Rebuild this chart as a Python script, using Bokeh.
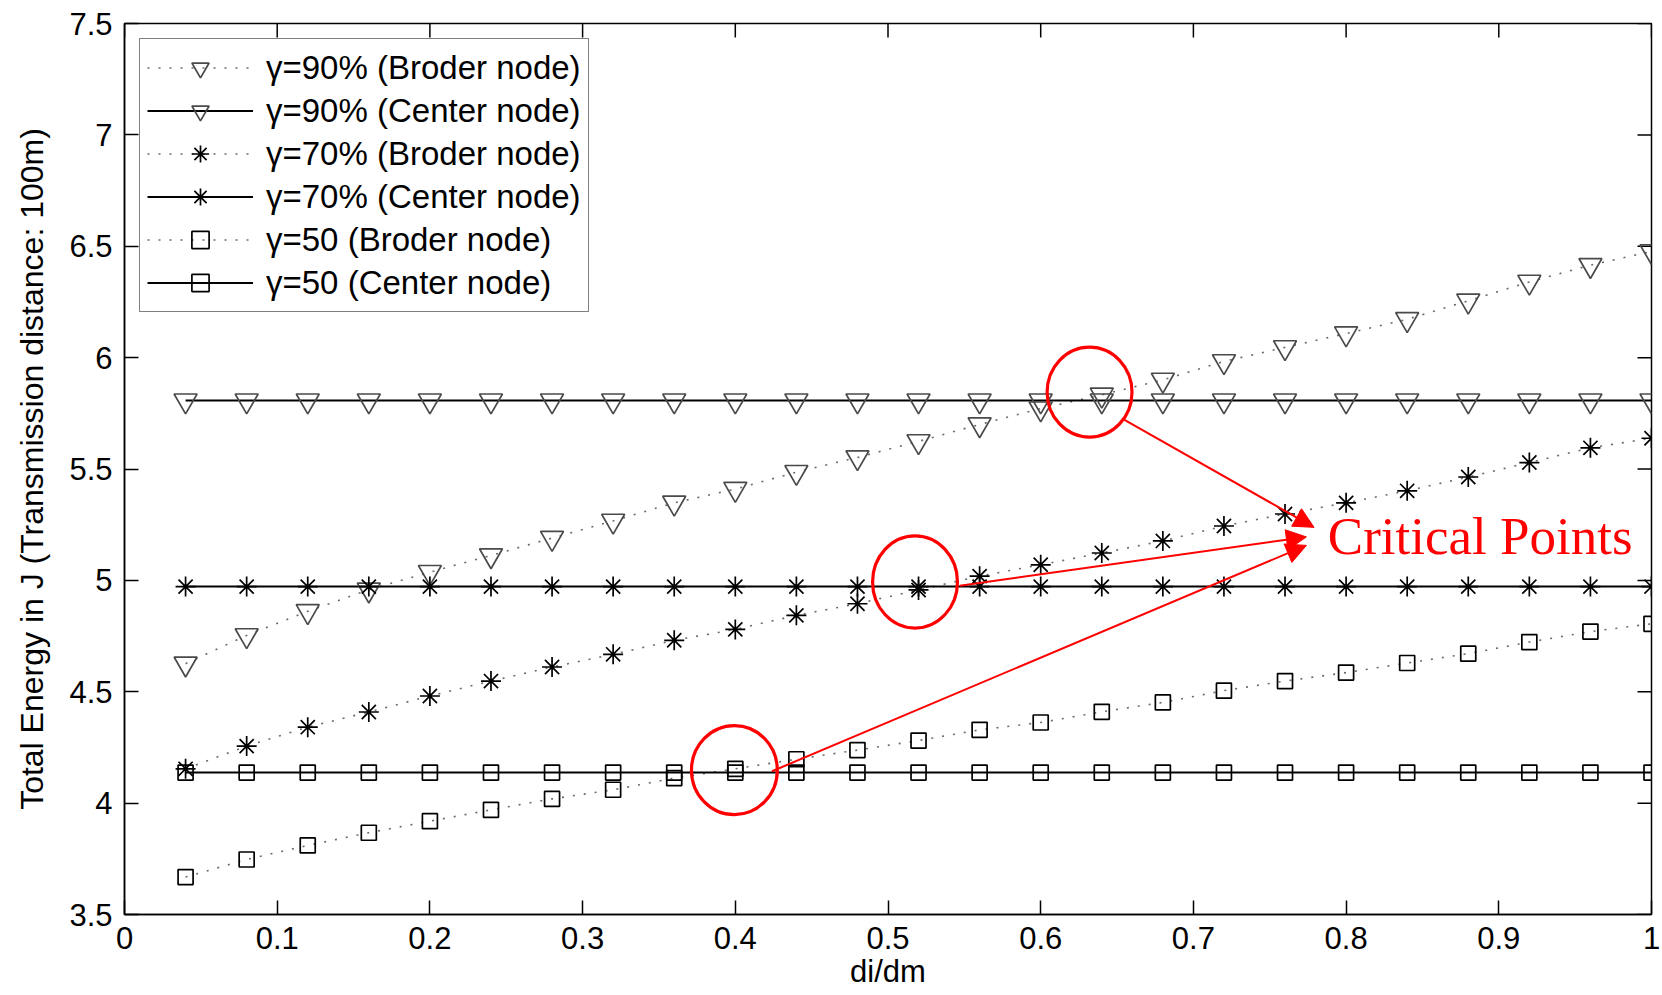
from bokeh.plotting import figure
from bokeh.models import (Range1d, FixedTicker, Legend, LegendItem,
                          Arrow, NormalHead, Label, ColumnDataSource)
from bokeh.embed import file_html
from bokeh.resources import INLINE

# ---------------- data ----------------
x_vals = [0.04, 0.08, 0.12, 0.16, 0.20, 0.24, 0.28, 0.32, 0.36, 0.40, 0.44, 0.48, 0.52,
          0.56, 0.60, 0.64, 0.68, 0.72, 0.76, 0.80, 0.84, 0.88, 0.92, 0.96, 1.00]

g90_border = [4.626, 4.753, 4.861, 4.958, 5.037, 5.112, 5.190, 5.267, 5.348, 5.410, 5.486, 5.552, 5.624,
              5.700, 5.771, 5.833, 5.900, 5.983, 6.046, 6.108, 6.172, 6.255, 6.340, 6.415, 6.477]
g90_center = [5.807, 5.807, 5.807, 5.807, 5.807, 5.807, 5.807, 5.807, 5.807, 5.807, 5.807, 5.807, 5.807,
              5.807, 5.807, 5.807, 5.807, 5.807, 5.807, 5.807, 5.807, 5.807, 5.807, 5.807, 5.807]
g70_border = [4.154, 4.256, 4.341, 4.409, 4.481, 4.548, 4.611, 4.668, 4.731, 4.780, 4.843, 4.895, 4.957,
              5.019, 5.070, 5.123, 5.177, 5.244, 5.298, 5.348, 5.402, 5.464, 5.529, 5.595, 5.638]
g70_center = [4.972, 4.972, 4.972, 4.972, 4.972, 4.972, 4.972, 4.972, 4.972, 4.972, 4.972, 4.972, 4.972,
              4.972, 4.972, 4.972, 4.972, 4.972, 4.972, 4.972, 4.972, 4.972, 4.972, 4.972, 4.972]
g50_border = [3.668, 3.747, 3.810, 3.867, 3.919, 3.970, 4.019, 4.060, 4.112, 4.154, 4.197, 4.238, 4.281,
              4.329, 4.362, 4.410, 4.452, 4.505, 4.548, 4.586, 4.629, 4.671, 4.723, 4.770, 4.805]
g50_center = [4.137, 4.137, 4.137, 4.137, 4.137, 4.137, 4.137, 4.137, 4.137, 4.137, 4.137, 4.137, 4.137,
              4.137, 4.137, 4.137, 4.137, 4.137, 4.137, 4.137, 4.137, 4.137, 4.137, 4.137, 4.137]

legend_labels = ["γ=90% (Broder node)", "γ=90% (Center node)",
                 "γ=70% (Broder node)", "γ=70% (Center node)",
                 "γ=50 (Broder node)", "γ=50 (Center node)"]

x_ticks = [0, 0.1, 0.2, 0.3, 0.4, 0.5, 0.6, 0.7, 0.8, 0.9, 1]
x_tick_labels = ["0", "0.1", "0.2", "0.3", "0.4", "0.5", "0.6", "0.7", "0.8", "0.9", "1"]
y_ticks = [3.5, 4, 4.5, 5, 5.5, 6, 6.5, 7, 7.5]
y_tick_labels = ["3.5", "4", "4.5", "5", "5.5", "6", "6.5", "7", "7.5"]

# critical-point annotations (data coordinates)
circle_x = [0.632, 0.5177, 0.3994]
circle_y = [5.845, 4.993, 4.148]
circle_w = [0.0556, 0.0556, 0.0562]
circle_h = [0.404, 0.414, 0.400]
arrow_x0 = [0.654, 0.547, 0.424]
arrow_y0 = [5.724, 4.976, 4.143]
arrow_x1 = [0.779, 0.774, 0.774]
arrow_y1 = [5.238, 5.195, 5.157]
annot_text = "Critical Points"
annot_x = 0.788
annot_y = 5.200

FONT = "Liberation Sans"
X0, X1, Y0, Y1 = 0, 1, 3.5, 7.5
FRAME_W, FRAME_H = 1527, 891     # frame size in px (style)
TICK_PX = 14                      # inward tick length (style)

p = figure(width=1660, height=993, x_range=Range1d(X0, X1), y_range=Range1d(Y0, Y1),
           output_backend="svg", toolbar_location=None,
           min_border_left=124, min_border_right=9, min_border_top=23, min_border_bottom=79)
p.xgrid.visible = False
p.ygrid.visible = False
p.outline_line_color = "black"
p.outline_line_width = 1.5
p.background_fill_color = "white"
p.border_fill_color = "white"

xa = p.xaxis[0]
ya = p.yaxis[0]
for ax, ticks, labels in ((xa, x_ticks, x_tick_labels), (ya, y_ticks, y_tick_labels)):
    ax.ticker = FixedTicker(ticks=ticks)
    ax.major_label_overrides = dict(zip(ticks, labels))
    ax.minor_tick_line_color = None
    ax.major_tick_in = TICK_PX
    ax.major_tick_out = 0
    ax.major_tick_line_width = 1.5
    ax.axis_line_width = 1.5
    ax.axis_line_color = "black"
    ax.major_tick_line_color = "black"
    ax.major_label_text_font = FONT
    ax.major_label_text_color = "black"
    ax.major_label_text_font_size = "31px"
    ax.axis_label_text_font = FONT
    ax.axis_label_text_font_style = "normal"
    ax.axis_label_text_color = "black"
xa.major_label_standoff = 12
ya.major_label_standoff = 12
xa.axis_label = "di/dm"
ya.axis_label = "Total Energy in J (Transmission distance: 100m)"
xa.axis_label_text_font_size = "31px"
ya.axis_label_text_font_size = "32px"
xa.axis_label_standoff = 2
ya.axis_label_standoff = 16

# mirrored inward ticks on the top and right edges (from the tick arrays)
dy_tick = TICK_PX * (Y1 - Y0) / FRAME_H
dx_tick = TICK_PX * (X1 - X0) / FRAME_W
p.segment(x0=x_ticks, y0=[Y1] * len(x_ticks), x1=x_ticks, y1=[Y1 - dy_tick] * len(x_ticks),
          line_color="black", line_width=1.5)
p.segment(x0=[X1] * len(y_ticks), y0=y_ticks, x1=[X1 - dx_tick] * len(y_ticks), y1=y_ticks,
          line_color="black", line_width=1.5)

src = ColumnDataSource(dict(x=x_vals, b90=g90_border, c90=g90_center, b70=g70_border,
                            c70=g70_center, b50=g50_border, c50=g50_center))

DOT = dict(line_color="#6a6a6a", line_width=1.6, line_dash="2 9")
SOLID = dict(line_color="black", line_width=2)
TRI = dict(marker="inverted_triangle", size=23, fill_color=None, line_color="#4a4a4a", line_width=1.7)
AST = dict(marker="asterisk", size=20, line_color="black", line_width=1.7)
SQR = dict(marker="square", size=15, fill_color=None, line_color="black", line_width=1.7)

r = {}
r["b90l"] = p.line("x", "b90", source=src, **DOT)
r["c90l"] = p.line("x", "c90", source=src, **SOLID)
r["b70l"] = p.line("x", "b70", source=src, **DOT)
r["c70l"] = p.line("x", "c70", source=src, **SOLID)
r["b50l"] = p.line("x", "b50", source=src, **DOT)
r["c50l"] = p.line("x", "c50", source=src, **SOLID)
r["b90m"] = p.scatter("x", "b90", source=src, **TRI)
r["c90m"] = p.scatter("x", "c90", source=src, **TRI)
r["b70m"] = p.scatter("x", "b70", source=src, **AST)
r["c70m"] = p.scatter("x", "c70", source=src, **AST)
r["b50m"] = p.scatter("x", "b50", source=src, **SQR)
r["c50m"] = p.scatter("x", "c50", source=src, **SQR)

# annotations
p.ellipse(x=circle_x, y=circle_y, width=circle_w, height=circle_h,
          fill_color=None, line_color="red", line_width=3.2)
for x0, y0, x1, y1 in zip(arrow_x0, arrow_y0, arrow_x1, arrow_y1):
    p.add_layout(Arrow(x_start=x0, y_start=y0, x_end=x1, y_end=y1,
                       line_color="red", line_width=2,
                       end=NormalHead(size=20, fill_color="red", line_color="red")))
p.add_layout(Label(x=annot_x, y=annot_y, text=annot_text, text_color="red",
                   text_font="Liberation Serif", text_font_size="53px",
                   text_baseline="middle", text_align="left"))

keys = [("b90l", "b90m"), ("c90l", "c90m"), ("b70l", "b70m"),
        ("c70l", "c70m"), ("b50l", "b50m"), ("c50l", "c50m")]
items = [LegendItem(label=lab, renderers=[r[a], r[b]]) for lab, (a, b) in zip(legend_labels, keys)]
legend = Legend(items=items, location="top_left", margin=15, padding=7,
                spacing=0, glyph_width=106, glyph_height=43, label_height=43,
                label_standoff=13, label_text_font=FONT, label_text_font_size="33px",
                label_text_color="black", border_line_color="black", border_line_width=1.5,
                background_fill_color="white", background_fill_alpha=1.0)
p.add_layout(legend, "center")

open("out.html", "w").write(file_html(p, INLINE))
